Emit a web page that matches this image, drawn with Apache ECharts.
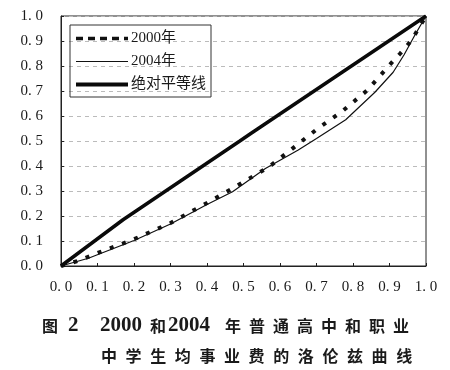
<!DOCTYPE html>
<html>
<head>
<meta charset="utf-8">
<script src="https://cdn.jsdelivr.net/npm/echarts@6/dist/echarts.min.js"></script>
<style>
html,body{margin:0;padding:0;background:#fff;}
#c{width:450px;height:370px;}
</style>
</head>
<body>
<div id="c"></div>
<script>
// Data (cumulative share of students, cumulative share of expenditure)
const seriesNames = ['2000年', '2004年', '绝对平等线'];
const lorenz2000 = [[0,0],[0.05,0.022],[0.1,0.052],[0.2,0.107],[0.3,0.172],[0.4,0.252],[0.47,0.31],[0.57,0.397],[0.63,0.465],[0.7,0.546],[0.77,0.618],[0.84,0.704],[0.9,0.804],[0.93,0.851],[0.96,0.902],[1,1]];
const lorenz2004 = [[0,0],[0.075,0.031],[0.2,0.102],[0.3,0.168],[0.4,0.246],[0.47,0.297],[0.56,0.39],[0.65,0.464],[0.7,0.51],[0.78,0.585],[0.86,0.695],[0.91,0.775],[0.94,0.845],[0.97,0.925],[1,1]];
const equality = [[0,0],[0.17,0.185],[0.49,0.5],[0.52,0.53],[1,1]];
const tickMin = 0, tickMax = 1, tickStep = 0.1;
const titleLine1Parts = ['图', '2', '2000', '和', '2004', '年', '普', '通', '高', '中', '和', '职', '业'];
const titleLine2Chars = ['中', '学', '生', '均', '事', '业', '费', '的', '洛', '伦', '兹', '曲', '线'];

const serif = "'Liberation Serif','DejaVu Serif','Noto Sans CJK SC'";
const cjk = "'Noto Sans CJK SC'";
const fmt = v => v.toFixed(1).replace('.', '. ');

// rich-text token styles for the two caption lines
const boxW1 = [26, 32, 50, 18, 57, 24, 24, 24, 24, 24, 24, 24, 24];
const rich1 = {};
const parts1 = titleLine1Parts.map((t, i) => {
  const isDigit = /^[0-9]+$/.test(t);
  rich1['t' + i] = {
    width: boxW1[i], align: 'left', lineHeight: 22,
    fontFamily: isDigit ? "'Liberation Serif'" : cjk,
    fontSize: isDigit ? 21 : 16, fontWeight: 'bold', color: '#1a1a1a'
  };
  return '{t' + i + '|' + t + '}';
});
const rich2 = {c: {width: 24.6, align: 'left', lineHeight: 22, fontFamily: cjk, fontSize: 16, fontWeight: 'bold', color: '#1a1a1a'}};
const parts2 = titleLine2Chars.map(t => '{c|' + t + '}');

const chart = echarts.init(document.getElementById('c'), null, {renderer: 'canvas'});
chart.setOption({
  animation: false,
  backgroundColor: '#fff',
  title: [
    {text: parts1.join(''), left: 42, top: 315, padding: 0, textStyle: {rich: rich1}},
    {text: parts2.join(''), left: 101, top: 345, padding: 0, textStyle: {rich: rich2}}
  ],
  grid: {left: 61, right: 24, top: 16, bottom: 104, show: true, borderColor: '#222', borderWidth: 1, backgroundColor: 'transparent'},
  legend: {
    orient: 'vertical', left: 70, top: 25,
    data: [
      {name: seriesNames[0], lineStyle: {color: '#111', width: 3.5, type: [7, 5]}},
      {name: seriesNames[1], lineStyle: {color: '#111', width: 1.2, type: 'solid'}},
      {name: seriesNames[2], lineStyle: {color: '#0a0a0a', width: 4, type: 'solid'}}
    ],
    itemWidth: 52, itemHeight: 14, itemGap: 8,
    padding: [6, 5, 5, 4],
    borderColor: '#333', borderWidth: 1,
    itemStyle: {opacity: 0},
    textStyle: {fontFamily: serif, fontSize: 15, color: '#1a1a1a', padding: [0, 0, 0, -2]}
  },
  xAxis: {
    type: 'value', min: tickMin, max: tickMax, interval: tickStep,
    axisLine: {show: true, lineStyle: {color: '#222', width: 1}},
    axisTick: {show: true, inside: true, length: 3, lineStyle: {color: '#222'}},
    splitLine: {show: false},
    axisLabel: {formatter: fmt, margin: 14, fontFamily: serif, fontSize: 15, color: '#1a1a1a'}
  },
  yAxis: {
    type: 'value', min: tickMin, max: tickMax, interval: tickStep,
    axisLine: {show: true, lineStyle: {color: '#222', width: 1}},
    axisTick: {show: true, inside: true, length: 3, lineStyle: {color: '#222'}},
    splitLine: {show: true, lineStyle: {color: '#bbb', type: [4, 4], width: 1}},
    axisLabel: {formatter: fmt, margin: 18, fontFamily: serif, fontSize: 15, color: '#1a1a1a'}
  },
  series: [
    {name: seriesNames[0], type: 'line', data: lorenz2000, showSymbol: false, symbol: 'none', z: 3,
     lineStyle: {color: '#111', width: 4, type: [4, 9]}, itemStyle: {color: '#111'}},
    {name: seriesNames[1], type: 'line', data: lorenz2004, showSymbol: false, symbol: 'none', z: 2,
     lineStyle: {color: '#111', width: 1.2}, itemStyle: {color: '#111'}},
    {name: seriesNames[2], type: 'line', data: equality, showSymbol: false, symbol: 'none', z: 4,
     lineStyle: {color: '#0a0a0a', width: 3.5}, itemStyle: {color: '#0a0a0a'}}
  ]
});
</script>
</body>
</html>
